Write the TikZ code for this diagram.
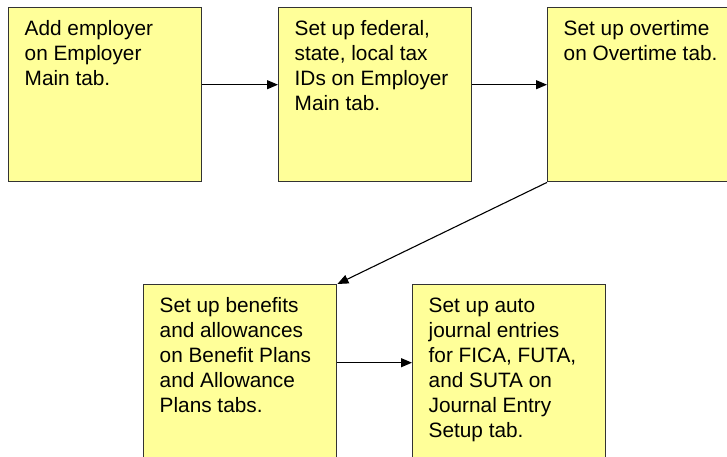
\documentclass[tikz,border=0pt]{standalone}
\usepackage{fontspec}
\setmainfont{Liberation Sans}
\usetikzlibrary{arrows.meta}
\definecolor{boxfill}{HTML}{FFFF99}
\definecolor{boxline}{HTML}{333333}
\newcommand{\boxtext}[1]{\parbox[c][153pt][t]{161pt}{\fontsize{20.8}{25}\selectfont\strut#1}}
\tikzset{
  stepbox/.style={draw=boxline, line width=1.4pt, fill=boxfill, anchor=north west,
    inner xsep=16pt, inner ysep=10.5pt, minimum width=193pt, minimum height=174pt, align=left},
  flow/.style={draw=black, line width=1.1pt, -{Triangle[length=11pt,width=9pt]}}
}
\begin{document}
\begin{tikzpicture}[x=1pt,y=-1pt]
\useasboundingbox (0,0) rectangle (727,457);
\clip (0,0) rectangle (727,457);
\fill[white] (0,0) rectangle (727,457);
\node[stepbox] (b1) at (8,7) {\boxtext{Add employer\\on Employer\\Main tab.}};
\node[stepbox] (b2) at (278,7) {\boxtext{Set up federal,\\state, local tax\\IDs on Employer\\Main tab.}};
\node[stepbox] (b3) at (547,7) {\boxtext{Set up overtime\\on Overtime tab.}};
\node[stepbox] (b4) at (143,284) {\boxtext{Set up benefits\\and allowances\\on Benefit Plans\\and Allowance\\Plans tabs.}};
\node[stepbox] (b5) at (412,284) {\boxtext{Set up auto\\journal entries\\for FICA, FUTA,\\and SUTA on\\Journal Entry\\Setup tab.}};
\draw[flow] ([yshift=10pt]b1.east) -- ([yshift=10pt]b2.west);
\draw[flow] ([yshift=10pt]b2.east) -- ([yshift=10pt]b3.west);
\draw[flow] (b3.south west) -- (b4.north east);
\draw[flow] ([yshift=9pt]b4.east) -- ([yshift=9pt]b5.west);
\end{tikzpicture}
\end{document}
